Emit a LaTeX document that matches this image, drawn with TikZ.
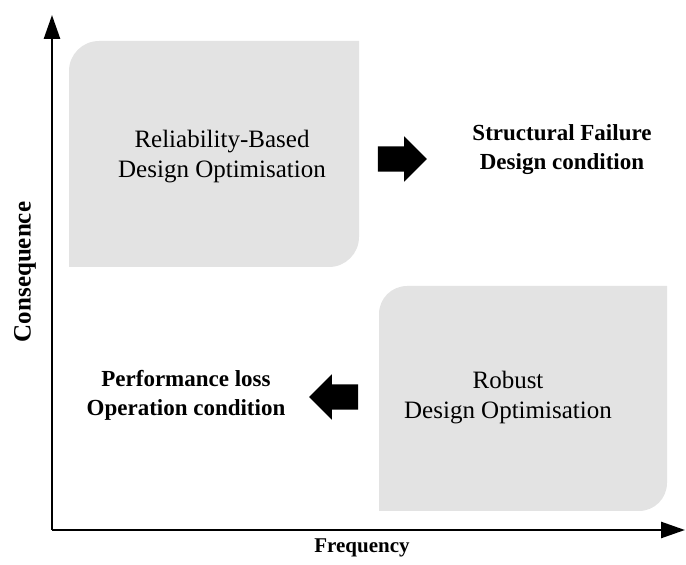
\documentclass[tikz,border=0pt]{standalone}
\usepackage{fontspec}
\setmainfont{Liberation Serif}
\usetikzlibrary{arrows.meta,shapes.arrows}

\begin{document}
\begin{tikzpicture}[
        x=1pt, y=1pt,
        region/.style={fill=black!11},
        axis/.style={line width=2.6pt, -{Triangle[length=24pt, width=16pt]}},
        boxtext/.style={align=center, font=\fontsize{25pt}{30pt}\selectfont},
        effect/.style={align=center, font=\bfseries\fontsize{23pt}{29pt}\selectfont},
        axislabel/.style={font=\bfseries\fontsize{21pt}{25pt}\selectfont},
        blockarrow/.style={single arrow, fill=black, inner xsep=0pt, inner ysep=12.5pt,
          single arrow head extend=10pt, single arrow head indent=0pt, minimum height=49pt}
      ]
      \useasboundingbox (0,0) rectangle (686,565);

      % Regions
      \fill[region] (69,298) -- (69,494) arc[start angle=180, end angle=90, radius=30]
        -- (359,524) -- (359,328) arc[start angle=0, end angle=-90, radius=30] -- cycle;
      \fill[region] (379,54) -- (379,251) arc[start angle=180, end angle=90, radius=28]
        -- (667,279) -- (667,82) arc[start angle=0, end angle=-90, radius=28] -- cycle;

      % Axes
      \coordinate (origin) at (52,35);
      \coordinate (ytip) at (52,550);
      \coordinate (xtip) at (685,35);
      \draw[axis] (origin) -- (ytip);
      \draw[axis] (origin) -- (xtip);
      \node[axislabel] (freq) at (362,17) {Frequency};
      \node[axislabel, font=\bfseries\fontsize{25pt}{30pt}\selectfont, rotate=90] (conseq) at (25,293) {Consequence};

      % Region labels
      \node[boxtext] (rbdo) at (222,408) {Reliability-Based\\Design Optimisation};
      \node[boxtext] (rdo) at (508,167) {Robust\\Design Optimisation};

      % Consequences
      \node[blockarrow] (rarrow) at (396,406) {};
      \node[effect] (failure) at (562,415) {Structural Failure\\Design condition};
      \node[blockarrow, shape border rotate=180] (larrow) at (340,168) {};
      \node[effect] (perf) at (186,170) {Performance loss\\Operation condition};

    \end{tikzpicture}
\end{document}
